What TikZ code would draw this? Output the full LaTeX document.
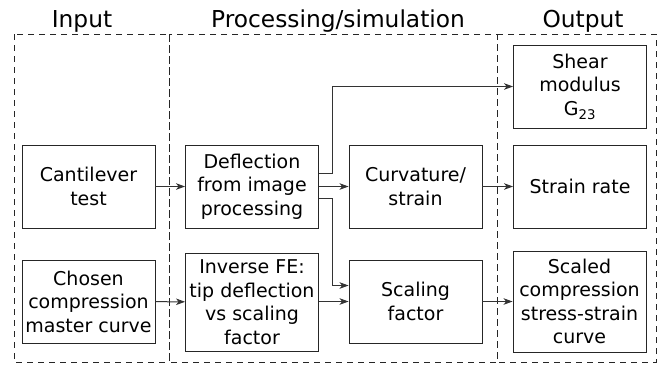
\documentclass[tikz,border=0pt]{standalone}
\usepackage{fontspec}
\setmainfont{DejaVu Sans}
\usetikzlibrary{arrows.meta}
\begin{document}
\begin{tikzpicture}[x=1pt,y=-1pt,
  box/.style={draw=black!85,line width=0.9pt,rectangle,minimum width=133pt,minimum height=83pt,
    inner sep=0pt,align=center,font=\fontsize{19}{23.5}\selectfont},
  title/.style={anchor=base,inner sep=0pt,font=\fontsize{23.3}{26}\selectfont},
  col/.style={draw=black!85,line width=0.9pt,dash pattern=on 6pt off 5pt},
  conn/.style={draw=black!80,line width=1pt,-{Stealth[length=9pt,width=6.5pt,inset=2.5pt]}}]
\useasboundingbox (0,0) rectangle (658,368);
% columns
\draw[col] (14,34) rectangle (169,362);
\draw[col] (169,34) rectangle (497,362);
\draw[col] (497,34) rectangle (656,362);
% titles
\node[title] (tin) at (82,27) {Input};
\node[title] (tproc) at (338,27) {Processing/simulation};
\node[title] (tout) at (583,27) {Output};
% boxes
\node[box] (cant) at (88.5,186.5) {Cantilever\\test};
\node[box] (chosen) at (88.5,301.5) {Chosen\\compression\\master curve};
\node[box] (defl) at (252,186.5) {Deflection\\from image\\processing};
\node[box,minimum height=98pt] (inv) at (252,302) {Inverse FE:\\tip deflection\\vs scaling\\factor};
\node[box] (curv) at (415.5,186.5) {Curvature/\\strain};
\node[box] (scal) at (415.5,301.5) {Scaling\\factor};
\node[box] (shear) at (580,86.5) {Shear\\modulus\\G\textsubscript{23}};
\node[box] (rate) at (580,186.5) {Strain rate};
\node[box,minimum height=101pt] (scaled) at (579.5,301.5) {Scaled\\compression\\stress-strain\\curve};
% connectors
\draw[conn] (cant) -- (defl);
\draw[conn] (chosen) -- (inv);
\draw[conn] ([yshift=13pt]defl.east) -| (332,86.5) -- (shear.west);
\draw[conn] (defl) -- (curv);
\draw[conn] ([yshift=-12pt]defl.east) -| (332,285.5) -- ([yshift=16pt]scal.west);
\draw[conn] (inv.east |- scal.west) -- (scal.west);
\draw[conn] (curv) -- (rate);
\draw[conn] (scal) -- (scaled);
\end{tikzpicture}
\end{document}
